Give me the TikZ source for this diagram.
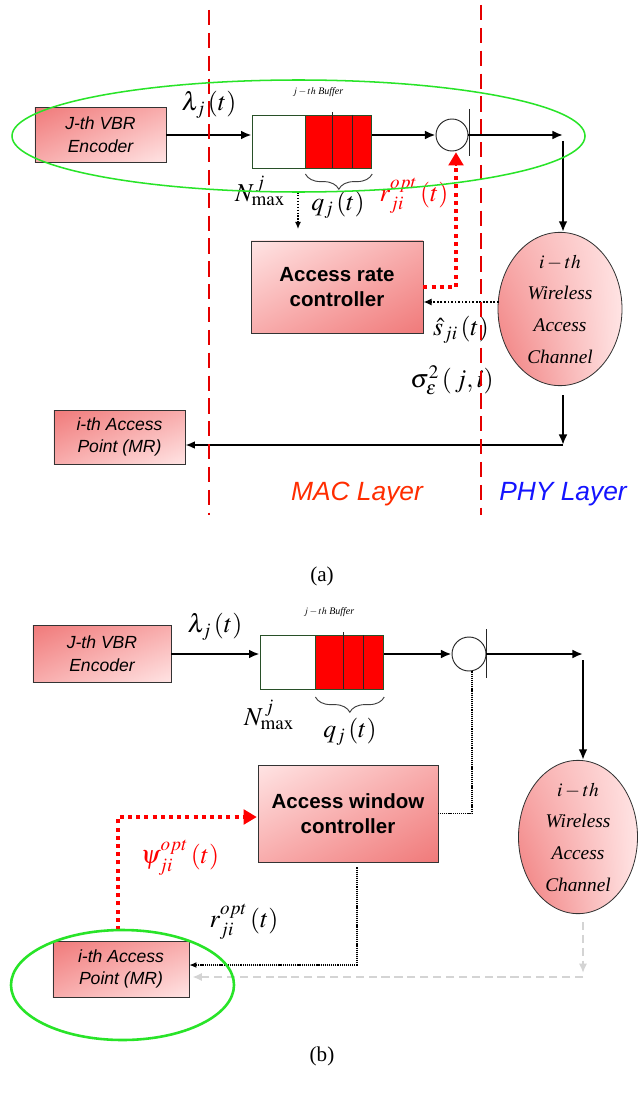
\documentclass[tikz,border=0pt]{standalone}
\usepackage{mathptmx}
\usepackage[no-math]{fontspec}
\setmainfont{Liberation Serif}
\setsansfont{Liberation Sans}
\usetikzlibrary{shapes.geometric,shadings,arrows.meta,decorations.pathreplacing,calc}

\definecolor{pinkD}{RGB}{240,122,122}
\definecolor{pinkM}{RGB}{248,172,172}
\definecolor{pinkL}{RGB}{255,228,228}
\definecolor{halo}{RGB}{40,228,40}
\definecolor{macred}{RGB}{255,45,0}
\definecolor{phyblue}{RGB}{20,20,255}
\definecolor{bufgreen}{RGB}{40,80,40}
\definecolor{ghost}{RGB}{212,212,212}

\tikzset{
  box/.style={draw=black!80, line width=0.7pt, inner sep=0pt, align=center},
  darkTL/.style={upper left=pinkD, upper right=pinkM, lower left=pinkM, lower right=pinkL},
  lightTL/.style={upper left=pinkL, upper right=pinkM, lower left=pinkM, lower right=pinkD},
  chanshade/.style={upper left=pinkM, lower left=pinkD, upper right=pinkL, lower right=pinkL},
  encfont/.style={font=\sffamily\itshape\fontsize{15}{19.5}\selectfont},
  ctrlfont/.style={font=\sffamily\bfseries\fontsize{17.5}{21.5}\selectfont},
  chanfont/.style={font=\itshape\fontsize{16.5}{27}\selectfont},
  mathlbl/.style={font=\fontsize{22}{26}\selectfont, inner sep=0pt},
  buflbl/.style={font=\fontsize{8.5}{10}\selectfont, inner sep=0pt},
  caplbl/.style={font=\fontsize{18}{20}\selectfont, inner sep=0pt},
  layerlbl/.style={font=\sffamily\itshape\fontsize{22.5}{26}\selectfont, inner sep=0pt},
  cellwhite/.style={draw=bufgreen, line width=0.7pt, fill=white, inner sep=0pt},
  cellred/.style={draw=bufgreen, line width=0.7pt, fill=red, inner sep=0pt},
  divider/.style={draw=black!85, line width=0.6pt},
  switchc/.style={circle, draw=black!85, line width=0.8pt, fill=white, inner sep=0pt},
  flow/.style={line width=2pt, -{Latex[length=9pt,width=7.5pt]}},
  flowthin/.style={line width=1.5pt, -{Latex[length=8pt,width=6.5pt]}},
  reddot/.style={draw=red, line width=3.4pt, dash pattern=on 3.4pt off 3.6pt},
  redhead/.style={draw=red, line width=1pt, -{Triangle[length=11pt,width=13pt]}},
  blackdot/.style={line width=1.3pt, dash pattern=on 1.6pt off 1.4pt, -{Latex[length=7pt,width=6pt]}},
  finedot/.style={line width=0.9pt, dash pattern=on 1pt off 0.8pt},
  ghostline/.style={draw=ghost, line width=2pt, dash pattern=on 7pt off 4pt},
  ghosthead/.style={-{Latex[length=8pt,width=7pt,color=ghost]}},
  layerline/.style={draw=red!90!black, line width=1.6pt, dash pattern=on 13pt off 6.5pt},
  bracedeco/.style={draw=black!75, line width=0.8pt, decorate, decoration={brace, amplitude=13pt, mirror}}
}

\begin{document}
\begin{tikzpicture}[x=0.03cm, y=-0.03cm]
\fill[white] (0,0) rectangle (637,1097);
\useasboundingbox (0,0) rectangle (637,1097);

% ================= upper diagram =================
\node[box, darkTL, encfont, minimum width=3.93cm, minimum height=1.65cm] (encA) at (100.5,135) {J-th VBR\\Encoder};

\node[cellwhite, minimum width=1.59cm, minimum height=1.59cm] (bufwA) at (278.5,141.5) {};
\node[cellred, anchor=west, minimum width=1.98cm, minimum height=1.59cm] (bufrA) at (bufwA.east) {};
\draw[divider] (332,112) -- (332,168);
\draw[divider] (352,115) -- (352,168);
\node[buflbl] (bufnA) at (318,92) {$j-th$ \textit{Buffer}};

\node[switchc, minimum size=0.96cm] (swA) at (452,135) {};
\draw[line width=0.8pt, black!85] (469,109) -- (469,156);

\node[box, lightTL, ctrlfont, minimum width=5.16cm, minimum height=2.76cm] (ctlA) at (337,287) {Access rate\\controller};

\node[ellipse, box, chanshade, chanfont, minimum width=3.72cm, minimum height=3.96cm] (chA) at (560,309) {$i-th$\\Wireless\\Access\\Channel};

\node[box, darkTL, encfont, minimum width=3.93cm, minimum height=1.62cm] (apA) at (119.5,437) {i-th Access\\Point (MR)};

% data path
\coordinate (cA) at (563,135);
\coordinate (dA) at (563,445);
\draw[flow] (encA.east) -- (encA.east -| bufwA.west);
\draw[flow] (bufrA.east |- swA.west) -- (swA.west);
\draw[flow] (swA.east) -- (cA);
\draw[flow] ($(cA)+(0,6)$) -- (cA |- chA.north);
\draw[flow] ($(chA.south -| dA)+(0,9)$) -- (dA);
\draw[flowthin] (dA) -- (dA -| apA.east);

% control signals
\coordinate (rA) at (456,287);
\draw[reddot] (ctlA.east) -- (rA) -- ($(rA |- swA.south)+(0,14)$);
\draw[redhead, fill=red] ($(rA |- swA.south)+(0,14)$) -- ($(rA |- swA.south)+(0,1)$);
\coordinate (sA) at ($(chA.west)+(1,-7)$);
\draw[blackdot] (sA) -- (sA -| ctlA.east);
\coordinate (nA1) at (298,192);
\coordinate (nA2) at (298,229);
\draw[line width=1pt, dash pattern=on 1.3pt off 1.2pt, -{Latex[length=6pt,width=5pt]}] (nA1) -- (nA2);

% queue annotation
\draw[bracedeco] (bufrA.south west |- 0,174) -- (bufrA.south east |- 0,174);
\node[mathlbl] (qA) at (338,205) {$q_{j}\,(t)$};
\node[mathlbl] (NA) at (260,191) {$N_{\max}^{\,j}$};
\node[mathlbl] (lamA) at (209,105) {$\lambda_{j}\,(t)$};
\node[mathlbl, text=red] (rlA) at (414,196) {$r_{ji}^{opt}\,(t)$};
\node[mathlbl] (shA) at (461,330) {$\hat{s}_{ji}\,(t)$};
\node[mathlbl] (sgA) at (452,380) {$\sigma_{\varepsilon}^{2}\left(\,j,i\right)$};

% layer boundaries
\draw[layerline] (209,10) -- (209,515);
\draw[layerline] (481,5) -- (481,515);
\node[layerlbl, text=macred] (macA) at (357,494) {MAC Layer};
\node[layerlbl, text=phyblue] (phyA) at (563,494) {PHY Layer};

% highlighted source path
\draw[halo, line width=1.3pt] (298.5,136) ellipse [x radius=8.595cm, y radius=1.68cm];

\node[caplbl] (capA) at (322,576) {(a)};

% ================= lower diagram =================
\node[box, darkTL, encfont, minimum width=4.14cm, minimum height=1.71cm] (encB) at (102,654) {J-th VBR\\Encoder};

\node[cellwhite, minimum width=1.65cm, minimum height=1.62cm] (bufwB) at (287.5,662) {};
\node[cellred, anchor=west, minimum width=2.04cm, minimum height=1.62cm] (bufrB) at (bufwB.east) {};
\draw[divider] (343,632) -- (343,689);
\draw[divider] (363,635) -- (363,689);
\node[buflbl] (bufnB) at (329,612) {$j-th$ \textit{Buffer}};

\node[switchc, minimum size=1.02cm] (swB) at (469,654) {};
\draw[line width=0.8pt, black!85] (486,629) -- (486,678);

\node[box, lightTL, ctrlfont, minimum width=5.4cm, minimum height=2.91cm] (ctlB) at (348,813.5) {Access window\\controller};

\node[ellipse, box, chanshade, chanfont, minimum width=3.57cm, minimum height=4.08cm] (chB) at (578,837) {$i-th$\\Wireless\\Access\\Channel};

\node[box, darkTL, encfont, minimum width=4.08cm, minimum height=1.68cm] (apB) at (121,969) {i-th Access\\Point (MR)};

% data path
\coordinate (cB) at (583,654);
\draw[flow] (encB.east) -- (encB.east -| bufwB.west);
\draw[flow] (bufrB.east |- swB.west) -- (swB.west);
\draw[flow] (swB.east) -- (cB);
\draw[flow] ($(cB)+(0,6)$) -- (cB |- chB.north);

% control signals
\coordinate (kB) at (472,813.5);
\draw[finedot] (swB.south -| kB) -- (kB) -- (ctlB.east);
\coordinate (pB) at (118,817);
\coordinate (qB) at (118,930);
\draw[reddot] (qB) -- (pB) -- ($(pB -| ctlB.west)+(-13,0)$);
\draw[redhead, fill=red] ($(pB -| ctlB.west)+(-13,0)$) -- ($(pB -| ctlB.west)+(-1,0)$);
\coordinate (mB) at (357,965);
\draw[finedot, -{Latex[length=6pt,width=5pt]}] ($(ctlB.south -| mB)+(0,5)$) -- (mB) -- (mB -| apB.east);
\coordinate (gB) at (583,977);
\draw[ghostline, ghosthead] ($(chB.south -| gB)+(0,8)$) -- ($(gB)+(0,-4)$);
\draw[ghostline, ghosthead] (gB) -- ($(gB -| apB.east)+(3,0)$);

% annotations
\draw[bracedeco] (bufrB.south west |- 0,697) -- (bufrB.south east |- 0,697);
\node[mathlbl] (qB2) at (350,732) {$q_{j}\,(t)$};
\node[mathlbl] (NB) at (269,715) {$N_{\max}^{\,j}$};
\node[mathlbl] (lamB) at (215,627) {$\lambda_{j}\,(t)$};
\node[mathlbl, text=red] (psiB) at (180,858) {$\psi_{ji}^{opt}\,(t)$};
\node[mathlbl] (rlB) at (244,922) {$r_{ji}^{opt}\,(t)$};

% highlighted access point
\draw[halo, line width=2.2pt] (122.5,985) ellipse [x radius=3.345cm, y radius=1.65cm];

\node[caplbl] (capB) at (322,1056) {(b)};
\end{tikzpicture}
\end{document}
